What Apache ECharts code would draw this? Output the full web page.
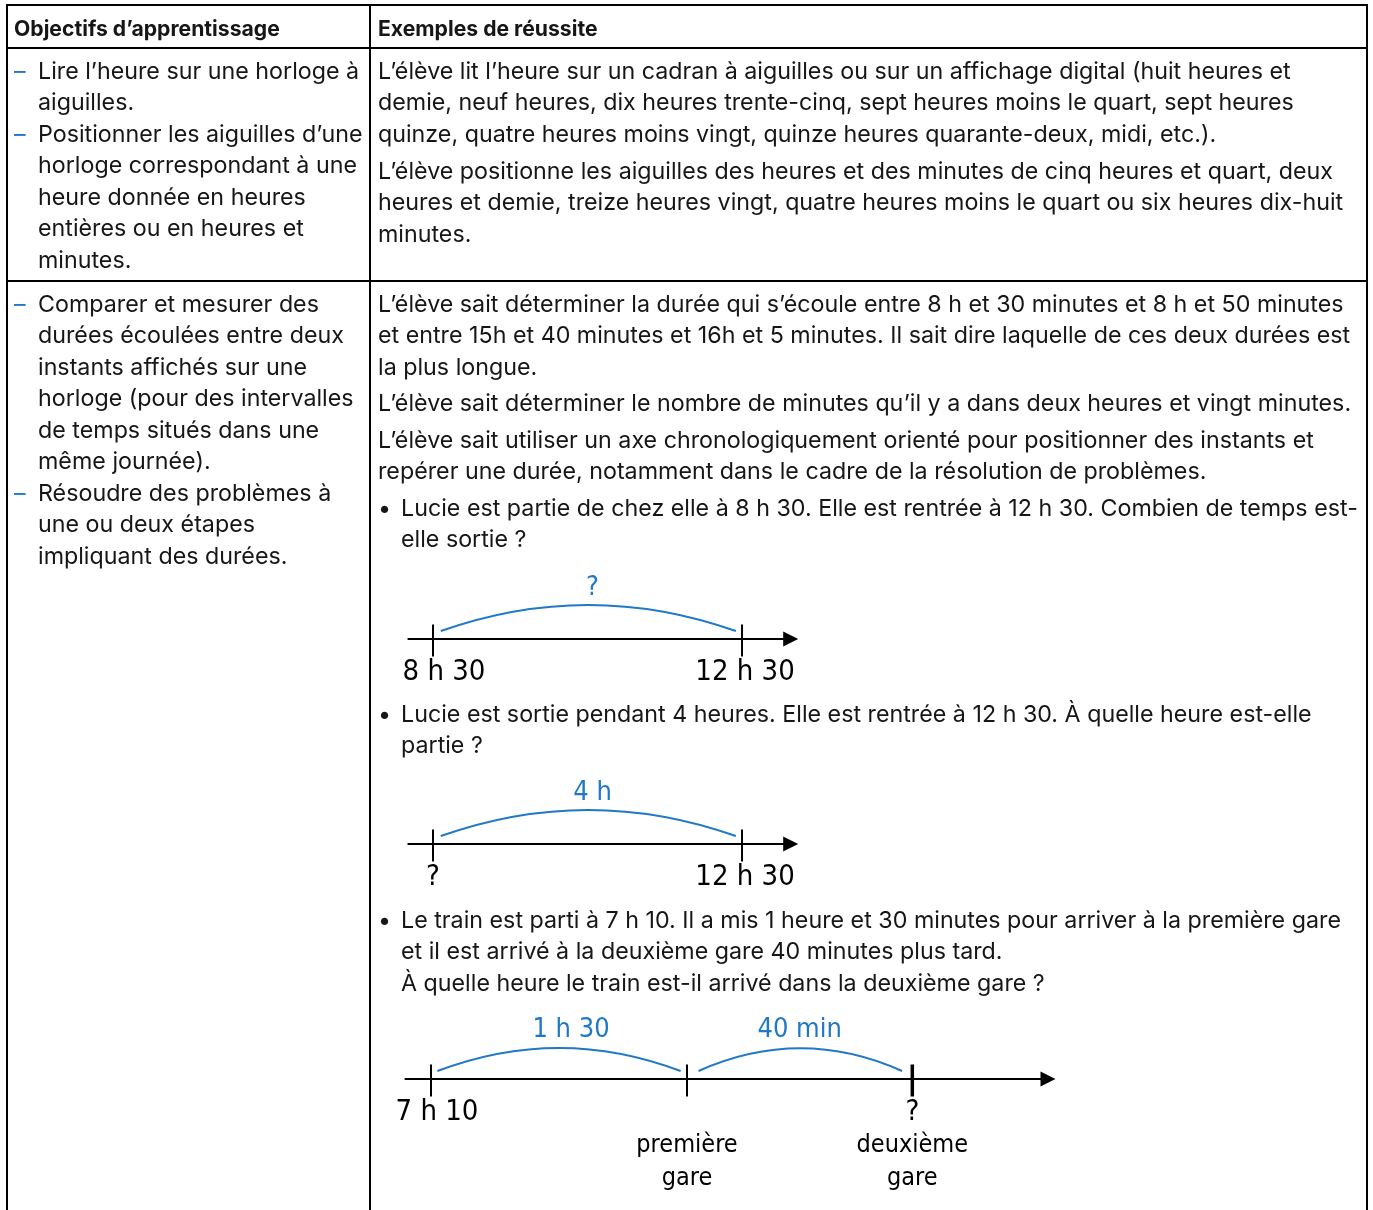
<!DOCTYPE html>
<html><head><meta charset="utf-8">
<script src="https://cdn.jsdelivr.net/npm/echarts@6/dist/echarts.min.js"></script>
<style>html,body{margin:0;padding:0;background:#fff}#c{width:1373px;height:1210px}</style>
</head><body><div id="c"></div>
<script>
// ---------- DATA ----------
const headers = ['Objectifs d’apprentissage', 'Exemples de réussite'];

// left column: [dash?, text]
const objectivesRow1 = [
  [true, 'Lire l’heure sur une horloge à'],
  [false, 'aiguilles.'],
  [true, 'Positionner les aiguilles d’une'],
  [false, 'horloge correspondant à une'],
  [false, 'heure donnée en heures'],
  [false, 'entières ou en heures et'],
  [false, 'minutes.']
];
const objectivesRow2 = [
  [true, 'Comparer et mesurer des'],
  [false, 'durées écoulées entre deux'],
  [false, 'instants affichés sur une'],
  [false, 'horloge (pour des intervalles'],
  [false, 'de temps situés dans une'],
  [false, 'même journée).'],
  [true, 'Résoudre des problèmes à'],
  [false, 'une ou deux étapes'],
  [false, 'impliquant des durées.']
];

// right column paragraphs
const examplesParagraphs = [
  {bullet: false, lines: ['L’élève lit l’heure sur un cadran à aiguilles ou sur un affichage digital (huit heures et',
    'demie, neuf heures, dix heures trente-cinq, sept heures moins le quart, sept heures',
    'quinze, quatre heures moins vingt, quinze heures quarante-deux, midi, etc.).']},
  {bullet: false, lines: ['L’élève positionne les aiguilles des heures et des minutes de cinq heures et quart, deux',
    'heures et demie, treize heures vingt, quatre heures moins le quart ou six heures dix-huit',
    'minutes.']},
  {bullet: false, lines: ['L’élève sait déterminer la durée qui s’écoule entre 8 h et 30 minutes et 8 h et 50 minutes',
    'et entre 15h et 40 minutes et 16h et 5 minutes. Il sait dire laquelle de ces deux durées est',
    'la plus longue.']},
  {bullet: false, lines: ['L’élève sait déterminer le nombre de minutes qu’il y a dans deux heures et vingt minutes.']},
  {bullet: false, lines: ['L’élève sait utiliser un axe chronologiquement orienté pour positionner des instants et',
    'repérer une durée, notamment dans le cadre de la résolution de problèmes.']},
  {bullet: true, lines: ['Lucie est partie de chez elle à 8 h 30. Elle est rentrée à 12 h 30. Combien de temps est-',
    'elle sortie ?']},
  {bullet: true, lines: ['Lucie est sortie pendant 4 heures. Elle est rentrée à 12 h 30. À quelle heure est-elle',
    'partie ?']},
  {bullet: true, lines: ['Le train est parti à 7 h 10. Il a mis 1 heure et 30 minutes pour arriver à la première gare',
    'et il est arrivé à la deuxième gare 40 minutes plus tard.',
    'À quelle heure le train est-il arrivé dans la deuxième gare ?']}
];

// timeline 1 (hours)
const tl1Marks = [8.5, 12.5];
const tl1Labels = ['8 h 30', '12 h 30'];
const tl1Arcs = [[8.5, 12.5]];
const tl1ArcLabels = ['?'];
// timeline 2 (hours)
const tl2Marks = [8.5, 12.5];
const tl2Labels = ['?', '12 h 30'];
const tl2Arcs = [[8.5, 12.5]];
const tl2ArcLabels = ['4 h'];
// timeline 3 (positions as drawn, not to scale: 7 h 10 = 0, première gare = 1)
const tl3Marks = [0, 1, 1.88];
const tl3Labels = ['7 h 10', '\n{w|première}\n{w|gare}', '?\n{w|deuxième}\n{w|gare}'];
const tl3Arcs = [[0, 1], [1, 1.88]];
const tl3ArcLabels = ['1 h 30', '40 min'];

// ---------- LAYOUT / STYLE ----------
const INK = '#161616';
const BLUE = '#1f78c8';
const FAMILY = 'Inter, "Noto Sans", sans-serif';
const HAND = '"DejaVu Sans Condensed", "DejaVu Sans", sans-serif';

const cvs = document.createElement('canvas').getContext('2d');
function fit(text, weight, family, target) {
  cvs.font = weight + ' 100px ' + family;
  return 100 * target / cvs.measureText(text).width;
}
const bodySize = fit('L’élève sait déterminer le nombre de minutes qu’il y a dans deux heures et vingt minutes.', 'normal', 'Inter', 973);
const headSize = fit('Objectifs d’apprentissage', 'bold', 'Inter', 266);
const BODY_FONT = 'normal ' + bodySize.toFixed(2) + 'px ' + FAMILY;
const HEAD_FONT = 'bold ' + headSize.toFixed(2) + 'px ' + FAMILY;

const graphics = [];
function txt(x, y, s, font, fill) {
  graphics.push({type: 'text', x: x, y: y, silent: true,
    style: {text: s, font: font, fill: fill || INK, align: 'left', verticalAlign: 'middle'}});
}
function line(x1, y1, x2, y2, w) {
  graphics.push({type: 'line', silent: true, shape: {x1, y1, x2, y2}, style: {stroke: '#000', lineWidth: w || 2}});
}
// table frame
line(7, 5, 1367, 5); line(7, 48, 1367, 48); line(7, 281, 1367, 281);
line(7, 4, 7, 1210); line(1367, 4, 1367, 1210); line(370, 4, 370, 1210);

txt(14, 29.5, headers[0], HEAD_FONT);
txt(378, 29.5, headers[1], HEAD_FONT);

const LH = 31.5;
function leftCol(rows, y0) {
  rows.forEach((r, i) => {
    const y = y0 + i * LH;
    if (r[0]) txt(14, y, '–', BODY_FONT, BLUE);
    txt(38, y, r[1], BODY_FONT);
  });
}
leftCol(objectivesRow1, 72);
leftCol(objectivesRow2, 305);

const paraY = [72, 172, 305, 404, 441, 509, 715, 921];
examplesParagraphs.forEach((p, k) => {
  p.lines.forEach((l, i) => {
    const y = paraY[k] + i * LH;
    if (p.bullet) {
      if (i === 0) txt(378, y, '•', BODY_FONT);
      txt(401, y, l, BODY_FONT);
    } else {
      txt(378, y, l, BODY_FONT);
    }
  });
});

// timelines geometry
const timelines = [
  {marks: tl1Marks, labels: tl1Labels, arcs: tl1Arcs, arcLabels: tl1ArcLabels,
   axisY: 639, left: 408.3, width: 382.4, min: 8.18, max: 13.13,
   labelDx: [11, 3], thick: [false, false], insetL: [0.1], insetR: [0.08], curv: [0.177], arcDx: [5]},
  {marks: tl2Marks, labels: tl2Labels, arcs: tl2Arcs, arcLabels: tl2ArcLabels,
   axisY: 844, left: 408.3, width: 382.4, min: 8.18, max: 13.13,
   labelDx: [0, 3], thick: [false, false], insetL: [0.1], insetR: [0.08], curv: [0.177], arcDx: [5]},
  {marks: tl3Marks, labels: tl3Labels, arcs: tl3Arcs, arcLabels: tl3ArcLabels,
   axisY: 1079, left: 405.4, width: 642.6, min: -0.1, max: 2.41,
   labelDx: [6, 0, 0], thick: [false, false, true], insetL: [0.025, 0.045], insetR: [0.025, 0.04], curv: [0.19, 0.223], arcDx: [12, 0]}
];

const grid = [], xAxis = [], yAxis = [], series = [];
timelines.forEach((t, i) => {
  grid.push({left: t.left, width: t.width, top: t.axisY - 50, height: 100, containLabel: false});
  xAxis.push({gridIndex: i, type: 'value', min: t.min, max: t.max,
    axisLine: {show: true, onZero: true, symbol: ['none', 'triangle'], symbolSize: [15, 15], lineStyle: {color: '#000', width: 2}},
    axisTick: {show: false}, axisLabel: {show: false}, splitLine: {show: false}});
  yAxis.push({gridIndex: i, type: 'value', min: -50, max: 50, show: false});
  // ticks with labels
  series.push({type: 'scatter', xAxisIndex: i, yAxisIndex: i, silent: true, z: 4,
    symbol: 'rect', itemStyle: {color: '#000', opacity: 1},
    data: t.marks.map((m, j) => ({
      value: [m, -1.5],
      symbolSize: t.thick[j] ? [3.5, 32] : [2, 32],
      label: {show: true, formatter: t.labels[j], offset: [t.labelDx[j], 15.5]}
    })),
    label: {position: 'inside', align: 'center', verticalAlign: 'top', color: '#000', opacity: 1,
      fontFamily: HAND, fontSize: 29, lineHeight: 33,
      rich: {w: {fontFamily: HAND, fontSize: 25, lineHeight: 33, color: '#000'}}}
  });
  // arcs
  series.push({type: 'lines', coordinateSystem: 'cartesian2d', xAxisIndex: i, yAxisIndex: i, silent: true, z: 3,
    polyline: false, effect: {show: false},
    lineStyle: {color: BLUE, width: 2, opacity: 1},
    data: t.arcs.map((a, k) => ({
      coords: [[a[0] + t.insetL[k], 8], [a[1] - t.insetR[k], 8]],
      lineStyle: {curveness: t.curv[k]}
    }))
  });
  // arc labels
  series.push({type: 'scatter', xAxisIndex: i, yAxisIndex: i, silent: true, z: 5,
    symbol: 'circle', symbolSize: 1, itemStyle: {color: 'rgba(0,0,0,0)', opacity: 1},
    data: t.arcs.map((a, k) => ({
      value: [(a[0] + a[1]) / 2, 0],
      label: {show: true, formatter: t.arcLabels[k], offset: [t.arcDx[k], i === 2 ? -49 : -51]}
    })),
    label: {position: 'inside', align: 'center', verticalAlign: 'middle', color: BLUE, opacity: 1,
      fontFamily: HAND, fontSize: 27}
  });
});

const chart = echarts.init(document.getElementById('c'), null, {renderer: 'canvas'});
chart.setOption({
  animation: false,
  backgroundColor: '#fff',
  grid, xAxis, yAxis, series,
  graphic: {elements: graphics}
});
</script>
</body></html>
